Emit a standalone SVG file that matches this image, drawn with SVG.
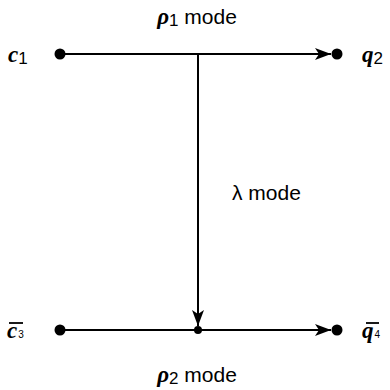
<svg xmlns="http://www.w3.org/2000/svg" width="390" height="390" viewBox="0 0 390 390">
<defs>
<marker id="arr" markerUnits="userSpaceOnUse" markerWidth="16" markerHeight="12" viewBox="0 0 16 12" refX="16" refY="6" orient="auto">
<path d="M0,0 L16,6 L0,12 L4,6 Z" fill="#000"/>
</marker>
<style>
.ln{stroke:#000;stroke-width:2;fill:none}
.dot{fill:#000}
.var{font-family:"Liberation Serif",serif;font-weight:bold;font-style:italic;font-size:23px}
.sub{font-family:"Liberation Sans",Arial,sans-serif;font-size:17px}
.sub2{font-family:"Liberation Sans",Arial,sans-serif;font-size:10px}
.lbl{font-family:"Liberation Sans",Arial,sans-serif;font-size:21px}
.gr{font-family:"Liberation Serif",serif;font-weight:bold;font-style:italic;font-size:23px}
</style>
</defs>
<rect width="390" height="390" fill="#fff"/>
<g id="connectors">
<line class="ln" x1="60" y1="54" x2="331" y2="54" marker-end="url(#arr)"/>
<line class="ln" x1="198" y1="54" x2="198" y2="326" marker-end="url(#arr)"/>
<line class="ln" x1="60" y1="330" x2="198" y2="330"/>
<line class="ln" x1="198" y1="330" x2="331" y2="330" marker-end="url(#arr)"/>
</g>
<g id="c1">
<circle class="dot" cx="60" cy="54" r="5.5"/>
<text x="8" y="62"><tspan class="var">c</tspan><tspan class="sub" dy="2">1</tspan></text>
</g>
<g id="q2">
<circle class="dot" cx="337" cy="54" r="5.5"/>
<text x="362" y="62"><tspan class="var">q</tspan><tspan class="sub" dy="2">2</tspan></text>
</g>
<g id="junction">
<circle class="dot" cx="198" cy="330" r="4"/>
</g>
<g id="c3">
<circle class="dot" cx="60" cy="330" r="5.5"/>
<line x1="9" y1="323" x2="23" y2="323" stroke="#000" stroke-width="1.8"/>
<text x="7" y="338"><tspan class="var">c</tspan><tspan class="sub2" dx="1">3</tspan></text>
</g>
<g id="q4">
<circle class="dot" cx="337" cy="330" r="5.5"/>
<line x1="366" y1="323" x2="379" y2="323" stroke="#000" stroke-width="1.8"/>
<text x="362" y="338"><tspan class="var">q</tspan><tspan class="sub2" dx="1">4</tspan></text>
</g>
<g id="labels">
<text x="197" y="24" text-anchor="middle"><tspan class="gr">ρ</tspan><tspan class="sub" dy="2">1</tspan><tspan class="lbl" dy="-2"> mode</tspan></text>
<text x="232" y="200" class="lbl">λ mode</text>
<text x="197" y="382" text-anchor="middle"><tspan class="gr">ρ</tspan><tspan class="sub" dy="2">2</tspan><tspan class="lbl" dy="-2"> mode</tspan></text>
</g>
</svg>
